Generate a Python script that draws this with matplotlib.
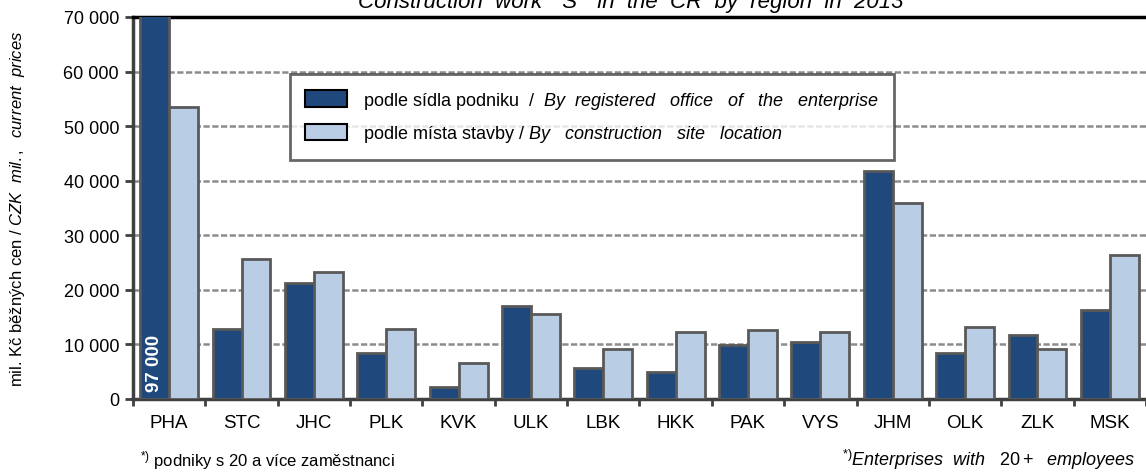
import matplotlib
matplotlib.use("Agg")
import matplotlib.pyplot as plt
import numpy as np
from matplotlib.patches import Patch

plt.rcParams['font.family'] = ['Liberation Sans', 'DejaVu Sans']
plt.rcParams['mathtext.fontset'] = 'custom'
plt.rcParams['mathtext.rm'] = 'Liberation Sans'
plt.rcParams['mathtext.it'] = 'Liberation Sans:italic'

# regions
regions = ["PHA", "STC", "JHC", "PLK", "KVK", "ULK", "LBK",
           "HKK", "PAK", "VYS", "JHM", "OLK", "ZLK", "MSK"]
# by registered office of the enterprise (CZK mil.)
office = [97000, 12800, 21200, 8400, 2200, 17000, 5600,
          4900, 9900, 10500, 41800, 8400, 11700, 16300]
# by construction site location (CZK mil.)
site = [53500, 25700, 23300, 12800, 6600, 15600, 9200,
        12200, 12600, 12200, 36000, 13200, 9100, 26400]

dark = "#1F497D"
light = "#B9CDE5"
edge = "#595959"

fig = plt.figure(figsize=(11.46, 4.77), dpi=100)
ax = fig.add_axes([133/1146, 1-400/477, 1-133/1146, (400-18)/477])

x = np.arange(len(regions))
w = 0.4
ax.bar(x - w/2, office, w, color=dark, edgecolor=edge, linewidth=2, zorder=3)
ax.bar(x + w/2, site, w, color=light, edgecolor=edge, linewidth=2, zorder=3)

ax.set_xlim(-0.5, len(regions) - 0.5)
ax.set_ylim(0, 70000)
ax.set_yticks(np.arange(0, 70001, 10000))
ax.set_yticklabels(["{:,}".format(v).replace(",", " ") for v in range(0, 70001, 10000)],
                   fontsize=13)
ax.set_xticks(x)
ax.set_xticklabels(regions, fontsize=13.5)
ax.set_xticks(np.arange(-0.5, len(regions)), minor=True)
ax.tick_params(axis='x', which='major', length=0, pad=11)
ax.tick_params(axis='x', which='minor', length=5, width=2, color="#404040", direction='out')
ax.tick_params(axis='y', length=6, width=2, color="#404040", pad=4)

ax.yaxis.grid(True, linestyle=(0, (2.5, 1)), color="#8C8C8C", linewidth=1.8, zorder=0)
ax.set_axisbelow(True)

for s in ['left', 'bottom']:
    ax.spines[s].set_color("#404040")
    ax.spines[s].set_linewidth(2.5)
ax.spines['right'].set_visible(False)
ax.spines['top'].set_color("black")
ax.spines['top'].set_linewidth(2.5)

# value of the clipped PHA bar
ax.text(x[0] - w/2, 1400, "97 000", rotation=90, color="white", fontweight="bold",
        fontsize=13.5, ha="center", va="bottom", zorder=4)

ax.set_ylabel(r"mil. Kč běžných cen / $\it{CZK\ \ mil.,\ \ current\ \ prices}$", fontsize=12)
ax.yaxis.set_label_coords(-0.105, 0.5)

handles = [Patch(facecolor=dark, edgecolor="black", linewidth=1.5),
           Patch(facecolor=light, edgecolor="black", linewidth=1.5)]
labels = [r"podle sídla podniku  /  $\it{By\ \ registered\ \ \ office\ \ \ of\ \ \ the\ \ \ enterprise}$",
          r"podle místa stavby / $\it{By\ \ \ construction\ \ \ site\ \ \ location}$"]
leg = ax.legend(handles, labels, loc="upper left", bbox_to_anchor=(0.155, 0.85),
                fontsize=13, frameon=True, fancybox=False, handlelength=2.3,
                handleheight=1.0, labelspacing=0.7, borderpad=0.85,
                handletextpad=0.9, borderaxespad=0)
leg.get_frame().set_edgecolor("#404040")
leg.get_frame().set_linewidth(2)
leg.set_zorder(5)

fig.text(0.55, 1 - 8/477, 'Construction  work  "S"  in  the  CR  by  region  in  2013',
         fontsize=16, style="italic", ha="center", va="baseline")

fig.text(140/1146, 1 - 466/477, r"$^{*)}$ podniky s 20 a více zaměstnanci",
         fontsize=12, ha="left", va="baseline")
fig.text(1135/1146, 1 - 466/477, r"$^{*)}$$\it{Enterprises\ \ with\ \ \ 20+\ \ employees}$",
         fontsize=13, ha="right", va="baseline")

fig.savefig("out.png", dpi=100)
